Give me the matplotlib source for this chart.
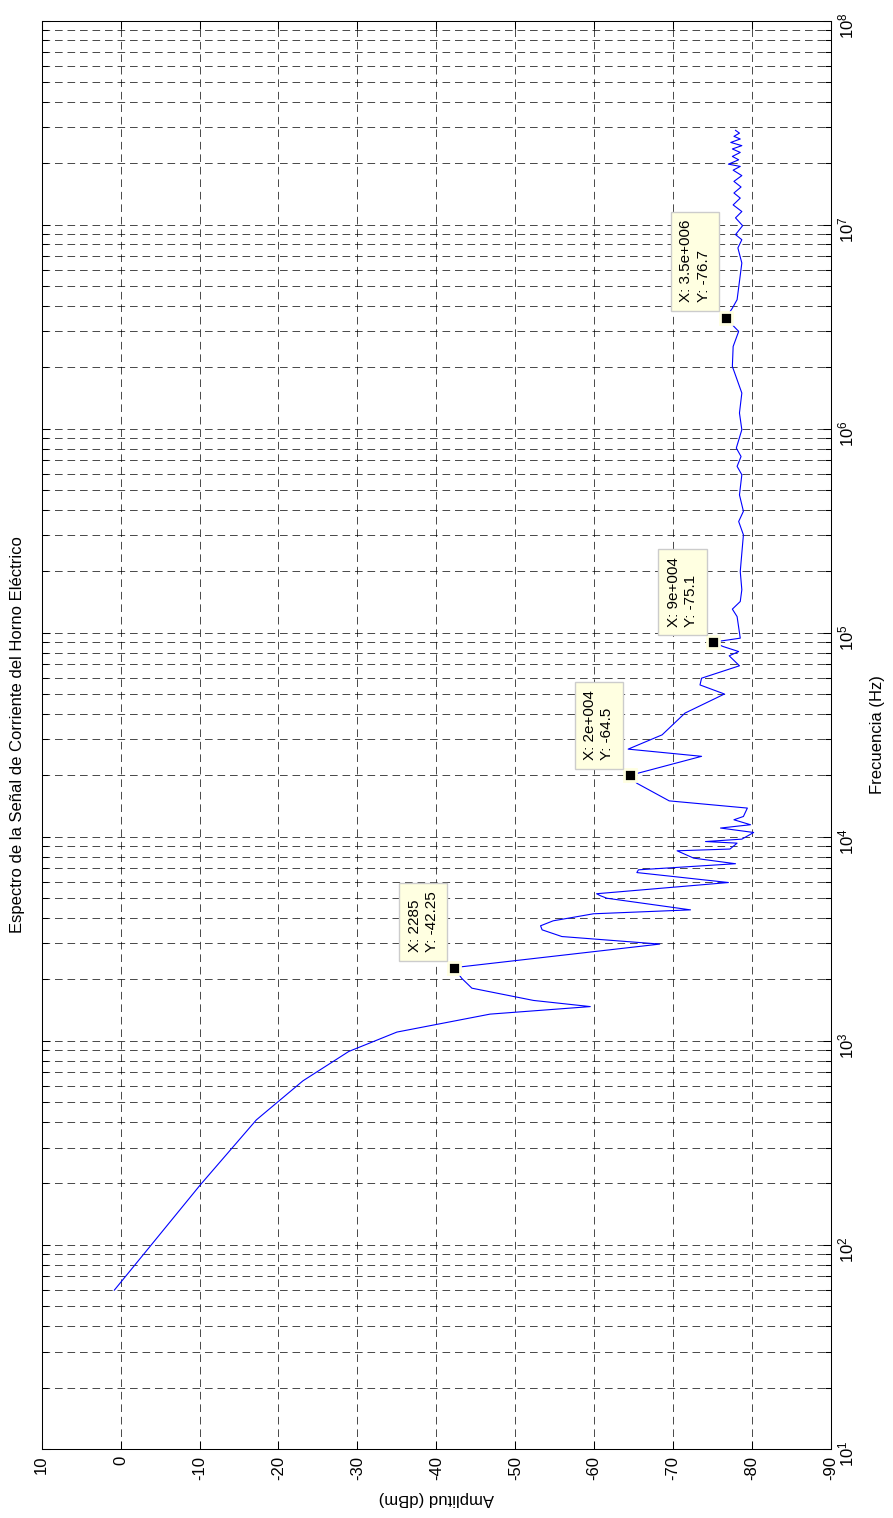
import numpy as np
import matplotlib.pyplot as plt
from matplotlib.ticker import NullFormatter, FixedLocator, FixedFormatter

plt.rcParams['font.family'] = ['Liberation Sans', 'DejaVu Sans']
plt.rcParams['mathtext.default'] = 'regular'
plt.rcParams['lines.scale_dashes'] = False
plt.rcParams['axes.unicode_minus'] = False

# spectrum (frequency in Hz, amplitude in dBm)
freq = [60, 197, 410, 637, 887, 1104, 1352, 1472, 1578, 1812, 2027, 2285,
        2980, 3245, 3500, 3664, 3875, 4195, 4385, 5000, 5140, 5260, 5970,
        6680, 6890, 7380, 7860, 8540, 8710, 9310, 9480, 9740, 10500, 11040,
        11460, 12120, 12580, 13830, 15000, 18300, 20000, 24800, 26900,
        31600, 40400, 50100, 55500, 59900, 68900, 77100, 80900, 85700,
        90000, 94100, 120000, 130600, 142300, 162500, 199700, 302000,
        351000, 394000, 474000, 595000, 654000, 731000, 804000, 989000,
        1.194e6, 1.496e6, 2.02e6, 2.53e6, 3.0e6, 3.17e6, 3.5e6, 3.9e6,
        4.29e6, 6.49e6, 7.69e6, 8.44e6, 8.94e6, 9.89e6, 1.08e7, 1.16e7,
        1.25e7, 1.35e7, 1.43e7, 1.53e7, 1.63e7, 1.74e7, 1.85e7, 1.93e7,
        1.98e7, 2.08e7, 2.16e7, 2.26e7, 2.35e7, 2.44e7, 2.53e7, 2.63e7,
        2.71e7, 2.81e7, 2.90e7]
amp = [0.8, -10.1, -17.2, -23.1, -28.9, -35.0, -46.8, -59.5, -52.3, -44.5,
       -43.2, -42.25, -68.3, -55.9, -53.4, -53.2, -54.8, -59.9, -72.2,
       -61.6, -60.8, -60.3, -77.0, -65.4, -65.6, -77.9, -72.6, -70.5,
       -77.2, -78.1, -74.1, -78.7, -80.2, -76.0, -79.8, -77.7, -78.9,
       -79.4, -69.5, -65.4, -64.5, -73.6, -64.3, -68.6, -71.5, -76.5,
       -73.4, -73.6, -78.4, -77.1, -78.3, -76.3, -75.1, -78.5, -78.1,
       -77.5, -78.5, -78.7, -78.5, -78.9, -78.3, -78.9, -78.4, -78.7,
       -78.1, -78.6, -78.0, -78.7, -78.4, -78.7, -77.5, -77.6, -78.3,
       -77.7, -76.7, -77.5, -78.1, -78.7, -78.2, -78.7, -77.9, -78.8,
       -77.9, -78.7, -77.6, -78.5, -77.7, -78.6, -77.7, -78.7, -77.6,
       -78.5, -77.0, -78.3, -77.5, -78.5, -77.5, -78.7, -77.3, -78.5,
       -77.7, -78.4, -77.9]

# data tips
tip_freq = [2285, 2e4, 9e4, 3.5e6]
tip_amp = [-42.25, -64.5, -75.1, -76.7]
tip_xtxt = ['2285', '2e+004', '9e+004', '3.5e+006']
tip_ytxt = ['-42.25', '-64.5', '-75.1', '-76.7']

amp_ticks = np.arange(10, -91, -10)
decades = np.arange(1, 9)

fig = plt.figure(figsize=(8.93, 15.18), dpi=100)
ax = fig.add_axes([0.0467, 0.0455, 0.8839, 0.9409])

# rotated view: amplitude runs horizontally, frequency vertically
ax.plot(amp, freq, color='blue', lw=0.8)
ax.set_yscale('log')
ax.set_xlim(10, -90)
ax.set_ylim(10, 1e8)

ax.xaxis.set_major_locator(FixedLocator(amp_ticks))
ax.yaxis.set_major_locator(FixedLocator(10.0 ** decades))
ax.yaxis.set_major_formatter(FixedFormatter(['$10^{%d}$' % k for k in decades]))
minor = [m * 10.0 ** k for k in decades[:-1] for m in range(2, 10)]
ax.yaxis.set_minor_locator(FixedLocator(minor))
ax.yaxis.set_minor_formatter(NullFormatter())

ax.grid(True, which='major', color='black', lw=0.5, linestyle=(0, (5.5, 3.5)))
ax.grid(True, which='minor', axis='y', color='black', lw=0.5, linestyle=(0, (5.5, 3.5)))

ax.tick_params(which='both', direction='in', top=True, bottom=True,
               left=True, right=True, width=0.75, labelsize=12)
ax.tick_params(which='major', length=6)
ax.tick_params(which='minor', length=4.5)
ax.tick_params(axis='x', labelrotation=90, pad=5)
ax.tick_params(axis='y', labelleft=False, labelright=True, labelrotation=90, pad=4)
for s in ax.spines.values():
    s.set_linewidth(0.75)

ax.set_xlabel('Amplitud (dBm)', fontsize=12, rotation=180, labelpad=8)
ax.yaxis.set_label_position('right')
ax.set_ylabel('Frecuencia (Hz)', fontsize=12, rotation=90, labelpad=10)
ax.text(-0.031, 0.5, 'Espectro de la Señal de Corriente del Horno Eléctrico',
        transform=ax.transAxes, rotation=90, ha='center', va='center', fontsize=12)

for f, a, xt, yt in zip(tip_freq, tip_amp, tip_xtxt, tip_ytxt):
    ax.plot(a, f, 's', ms=9, mfc='black', mec='#FFFFE1', mew=2, zorder=5)
    ax.annotate('X: %s\nY: %s' % (xt, yt), xy=(a, f), xytext=(-11, 11),
                textcoords='offset points', rotation=90, ha='right', va='bottom',
                multialignment='left', fontsize=11, linespacing=1.3, zorder=6,
                bbox=dict(boxstyle='square,pad=0.55', fc='#FFFFE1', ec='#CCCCCC', lw=1))

fig.savefig('out.png', dpi=100)
